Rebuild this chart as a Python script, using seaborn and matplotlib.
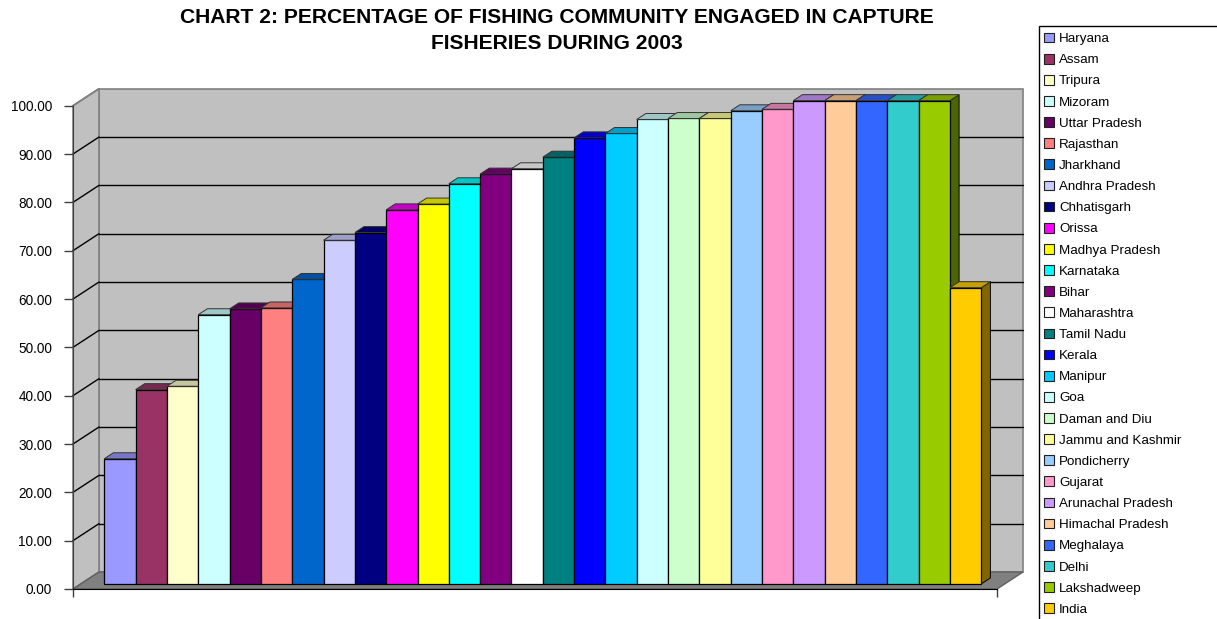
import numpy as np
import pandas as pd
import matplotlib
matplotlib.use("Agg")
import matplotlib.pyplot as plt
import matplotlib.colors as mcolors
from matplotlib.patches import Polygon, Patch, Rectangle
import seaborn as sns

# dados do grafico
estados = ["Haryana", "Assam", "Tripura", "Mizoram", "Uttar Pradesh", "Rajasthan",
           "Jharkhand", "Andhra Pradesh", "Chhatisgarh", "Orissa", "Madhya Pradesh",
           "Karnataka", "Bihar", "Maharashtra", "Tamil Nadu", "Kerala", "Manipur",
           "Goa", "Daman and Diu", "Jammu and Kashmir", "Pondicherry", "Gujarat",
           "Arunachal Pradesh", "Himachal Pradesh", "Meghalaya", "Delhi",
           "Lakshadweep", "India"]
percentual = [25.9, 40.2, 40.9, 55.7, 56.9, 57.1, 63.0, 71.1, 72.7, 77.4, 78.6,
              82.8, 84.8, 85.9, 88.3, 92.3, 93.2, 96.1, 96.3, 96.3, 97.9, 98.2,
              100.0, 100.0, 100.0, 100.0, 100.0, 61.3]
cores = ["#9999FF", "#993366", "#FFFFCC", "#CCFFFF", "#660066", "#FF8080",
         "#0066CC", "#CCCCFF", "#000080", "#FF00FF", "#FFFF00", "#00FFFF",
         "#800080", "#FFFFFF", "#008080", "#0000FF", "#00CCFF", "#CCFFFF",
         "#CCFFCC", "#FFFF99", "#99CCFF", "#FF99CC", "#CC99FF", "#FFCC99",
         "#3366FF", "#33CCCC", "#99CC00", "#FFCC00"]
ticks_y = [0, 10, 20, 30, 40, 50, 60, 70, 80, 90, 100]

df = pd.DataFrame({"estado": estados, "valor": percentual})

sns.set_style("white")
plt.rcParams["font.family"] = ["Liberation Sans", "DejaVu Sans"]
plt.rcParams["text.color"] = "black"
plt.rcParams["ytick.labelcolor"] = "black"

fig = plt.figure(figsize=(12.17, 6.19), dpi=100)
ax = fig.add_axes([73 / 1217, 30 / 619, 924 / 1217, 483.3 / 619])

sns.barplot(data=df, x="estado", y="valor", hue="estado", order=estados,
            hue_order=estados, palette=dict(zip(estados, cores)), width=1.0,
            legend=False, ax=ax, saturation=1, zorder=3)
barras = sorted(ax.patches, key=lambda p: p.get_x())

# geometria do "3D" (unidades de dados)
xmin, xmax = -1.25, 28.25
DX, DY = 0.83, 3.52          # profundidade total da caixa
fx, fy = 0.249, 1.056        # frente das barras
bx, by = 0.29, 1.23          # profundidade das barras

def escurecer(c, f):
    r, g, b = mcolors.to_rgb(c)
    return (r * f, g * f, b * f)

# paredes e chao
parede = "#C0C0C0"
ax.add_patch(Polygon([(xmin + DX, DY), (xmax + DX, DY), (xmax + DX, 100 + DY), (xmin + DX, 100 + DY)],
                     closed=True, fc=parede, ec="#808080", lw=1.2, clip_on=False, zorder=0))
ax.add_patch(Polygon([(xmin, 0), (xmin + DX, DY), (xmin + DX, 100 + DY), (xmin, 100)],
                     closed=True, fc=parede, ec="#808080", lw=1.2, clip_on=False, zorder=0))
ax.add_patch(Polygon([(xmin, 0), (xmax, 0), (xmax + DX, DY), (xmin + DX, DY)],
                     closed=True, fc="#808080", ec="#606060", lw=1, clip_on=False, zorder=1))
for t in ticks_y[1:-1]:
    ax.plot([xmin + DX, xmax + DX], [t + DY, t + DY], color="black", lw=1, zorder=0.5, clip_on=False)
    ax.plot([xmin, xmin + DX], [t, t + DY], color="black", lw=1, zorder=0.5, clip_on=False)
ax.plot([xmin, xmin + DX], [100, 100 + DY], color="#808080", lw=1.2, zorder=0.5, clip_on=False)

# barras com topo e lateral
for i, (p, cor) in enumerate(zip(barras, cores)):
    x0 = p.get_x() + fx
    h = p.get_height()
    p.set_x(x0)
    p.set_y(fy)
    p.set_edgecolor("black")
    p.set_linewidth(0.9)
    p.set_zorder(3 + i + 0.5)
    p.set_clip_on(False)
    x1 = x0 + p.get_width()
    topo = [(x0, h + fy), (x1, h + fy), (x1 + bx, h + fy + by), (x0 + bx, h + fy + by)]
    ax.add_patch(Polygon(topo, closed=True, fc=escurecer(cor, 0.78), ec="#333333",
                         lw=0.7, zorder=3 + i + 0.5, clip_on=False))
    lado = [(x1, fy), (x1 + bx, fy + by), (x1 + bx, h + fy + by), (x1, h + fy)]
    ax.add_patch(Polygon(lado, closed=True, fc=escurecer(cor, 0.5), ec="black",
                         lw=0.7, zorder=3 + i, clip_on=False))

ax.set_xlim(xmin, xmax)
ax.set_ylim(0, 100)
ax.set_xticks([xmin, xmax])
ax.set_xticklabels(["", ""])
ax.set_yticks(ticks_y)
ax.set_yticklabels([f"{t:.2f}" for t in ticks_y], fontsize=9.8, color="black")
ax.set_xlabel("")
ax.set_ylabel("")
ax.tick_params(axis="y", length=6.5, width=1, pad=8.5, color="#404040", left=True)
ax.tick_params(axis="x", length=6, width=1, color="#404040", bottom=True)
for s in ["top", "right"]:
    ax.spines[s].set_visible(False)
ax.spines["left"].set_color("#404040")
ax.spines["bottom"].set_color("black")
ax.spines["left"].set_zorder(50)
ax.spines["bottom"].set_zorder(50)
ax.patch.set_alpha(0)

fig.text(557 / 1217, 1 - 30.5 / 619,
         "CHART 2: PERCENTAGE OF FISHING COMMUNITY ENGAGED IN CAPTURE\nFISHERIES DURING 2003",
         ha="center", va="center", fontsize=15.1, fontweight="bold", linespacing=1.42,
         color="black")

# caixa da legenda (sai da figura pela direita e por baixo)
fig.patches.append(Rectangle((1039 / 1217, -0.1), 0.5, 1.1 - 26 / 619, transform=fig.transFigure,
                             fc="white", ec="black", lw=1, zorder=0))
handles = [Patch(facecolor=c, edgecolor="#202020", lw=0.8) for c in cores]
leg = fig.legend(handles, estados, loc="upper left", bbox_to_anchor=(1039 / 1217, 1 - 28 / 619),
                 fontsize=9.6, frameon=False, labelcolor="black",
                 borderaxespad=0, borderpad=0.35, handlelength=0.75, handleheight=0.75,
                 handletextpad=0.4, labelspacing=0.645)

fig.savefig("out.png", dpi=100, facecolor="white")
